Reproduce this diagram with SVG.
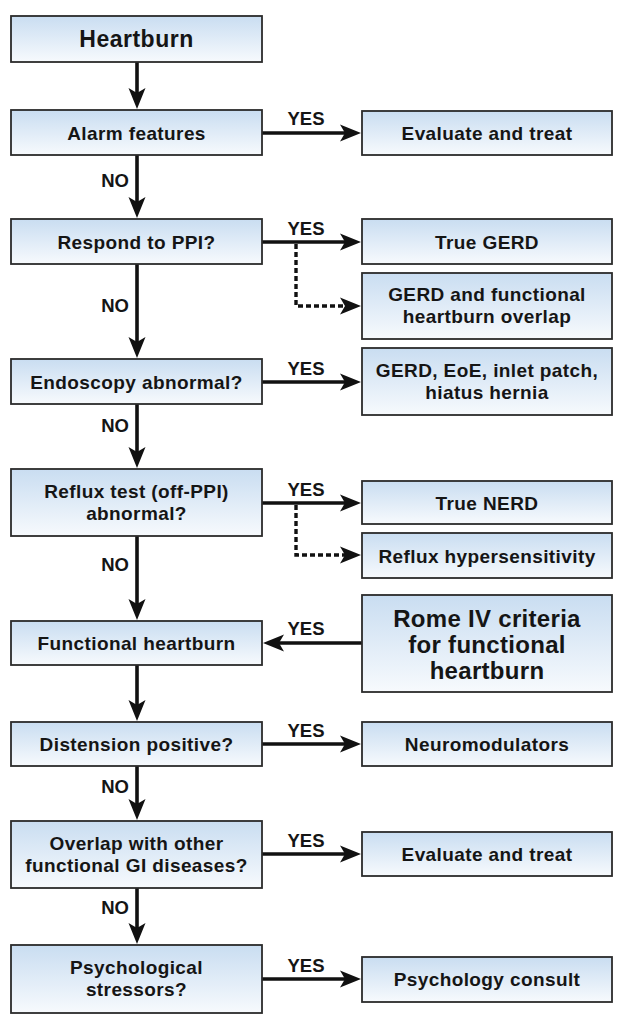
<svg xmlns="http://www.w3.org/2000/svg" width="626" height="1024" viewBox="0 0 626 1024">
<style>
.box{fill:url(#g);stroke:#2b2b2b;stroke-width:1.8}
.t{font-family:"Liberation Sans",Arial,sans-serif;font-weight:bold;font-size:19px;fill:#151515;text-anchor:middle;letter-spacing:0.4px}
.big{font-size:23px;letter-spacing:0.5px}
.rome{font-size:24px;letter-spacing:0.3px}
.lbl{font-family:"Liberation Sans",Arial,sans-serif;font-weight:bold;font-size:18.5px;fill:#151515}
.c{fill:none;stroke:#111;stroke-width:3.6}
.d{fill:none;stroke:#111;stroke-width:3.4;stroke-dasharray:5 3}
</style>
<defs>
<linearGradient id="g" x1="0" y1="0" x2="0" y2="1">
<stop offset="0" stop-color="#c9ddf1"/>
<stop offset="1" stop-color="#f7fafd"/>
</linearGradient>
<marker id="ah" viewBox="-22 -10 23 20" refX="-10" refY="0" markerWidth="23" markerHeight="20" markerUnits="userSpaceOnUse" orient="auto">
<path d="M0,0 L-21,-8.5 L-16,0 L-21,8.5 Z" fill="#111"/>
</marker>
</defs>
<rect width="626" height="1024" fill="#fff"/>

<g id="connectors">
<line class="c" x1="137" y1="62" x2="137" y2="99" marker-end="url(#ah)"/>
<line class="c" x1="137" y1="155" x2="137" y2="208" marker-end="url(#ah)"/>
<line class="c" x1="137" y1="264" x2="137" y2="348" marker-end="url(#ah)"/>
<line class="c" x1="137" y1="404" x2="137" y2="458" marker-end="url(#ah)"/>
<line class="c" x1="137" y1="536" x2="137" y2="610" marker-end="url(#ah)"/>
<line class="c" x1="137" y1="665" x2="137" y2="711" marker-end="url(#ah)"/>
<line class="c" x1="137" y1="766" x2="137" y2="810" marker-end="url(#ah)"/>
<line class="c" x1="137" y1="888" x2="137" y2="934" marker-end="url(#ah)"/>

<line class="c" x1="262" y1="133" x2="351" y2="133" marker-end="url(#ah)"/>
<line class="c" x1="262" y1="242" x2="351" y2="242" marker-end="url(#ah)"/>
<line class="c" x1="262" y1="382" x2="351" y2="382" marker-end="url(#ah)"/>
<line class="c" x1="262" y1="503" x2="351" y2="503" marker-end="url(#ah)"/>
<line class="c" x1="362" y1="643" x2="273" y2="643" marker-end="url(#ah)"/>
<line class="c" x1="262" y1="744" x2="351" y2="744" marker-end="url(#ah)"/>
<line class="c" x1="262" y1="854" x2="351" y2="854" marker-end="url(#ah)"/>
<line class="c" x1="262" y1="979" x2="351" y2="979" marker-end="url(#ah)"/>

<path class="d" d="M296,244 V306 H351" marker-end="url(#ah)"/>
<path class="d" d="M296,505 V555 H351" marker-end="url(#ah)"/>

<text class="lbl" x="306" y="125" text-anchor="middle">YES</text>
<text class="lbl" x="306" y="235" text-anchor="middle">YES</text>
<text class="lbl" x="306" y="375" text-anchor="middle">YES</text>
<text class="lbl" x="306" y="496" text-anchor="middle">YES</text>
<text class="lbl" x="306" y="635" text-anchor="middle">YES</text>
<text class="lbl" x="306" y="737" text-anchor="middle">YES</text>
<text class="lbl" x="306" y="847" text-anchor="middle">YES</text>
<text class="lbl" x="306" y="972" text-anchor="middle">YES</text>

<text class="lbl" x="129" y="187" text-anchor="end">NO</text>
<text class="lbl" x="129" y="312" text-anchor="end">NO</text>
<text class="lbl" x="129" y="432" text-anchor="end">NO</text>
<text class="lbl" x="129" y="571" text-anchor="end">NO</text>
<text class="lbl" x="129" y="793" text-anchor="end">NO</text>
<text class="lbl" x="129" y="914" text-anchor="end">NO</text>
</g>

<g id="heartburn"><rect class="box" x="11" y="16" width="251" height="46"/><text class="t big" x="136.5" y="47">Heartburn</text></g>
<g id="alarm"><rect class="box" x="11" y="110" width="251" height="45"/><text class="t" x="136.5" y="139.5">Alarm features</text></g>
<g id="evaluate1"><rect class="box" x="362" y="111" width="250" height="44"/><text class="t" x="487" y="140">Evaluate and treat</text></g>
<g id="respond"><rect class="box" x="11" y="219" width="251" height="45"/><text class="t" x="136.5" y="248.5">Respond to PPI?</text></g>
<g id="truegerd"><rect class="box" x="362" y="219" width="250" height="45"/><text class="t" x="487" y="248.5">True GERD</text></g>
<g id="overlapgerd"><rect class="box" x="362" y="273" width="250" height="66"/><text class="t" x="487" y="301">GERD and functional</text><text class="t" x="487" y="323">heartburn overlap</text></g>
<g id="endoscopy"><rect class="box" x="11" y="359" width="251" height="45"/><text class="t" x="136.5" y="388.5">Endoscopy abnormal?</text></g>
<g id="gerdeoe"><rect class="box" x="362" y="348" width="250" height="67"/><text class="t" x="487" y="376.5">GERD, EoE, inlet patch,</text><text class="t" x="487" y="398.5">hiatus hernia</text></g>
<g id="reflux"><rect class="box" x="11" y="469" width="251" height="67"/><text class="t" x="136.5" y="497.5">Reflux test (off-PPI)</text><text class="t" x="136.5" y="519.5">abnormal?</text></g>
<g id="truenerd"><rect class="box" x="362" y="481" width="250" height="43"/><text class="t" x="487" y="509.5">True NERD</text></g>
<g id="hypersens"><rect class="box" x="362" y="533" width="250" height="45"/><text class="t" x="487" y="562.5">Reflux hypersensitivity</text></g>
<g id="functional"><rect class="box" x="11" y="621" width="251" height="44"/><text class="t" x="136.5" y="650">Functional heartburn</text></g>
<g id="rome"><rect class="box" x="362" y="595" width="250" height="97"/><text class="t rome" x="487" y="627">Rome IV criteria</text><text class="t rome" x="487" y="653">for functional</text><text class="t rome" x="487" y="679">heartburn</text></g>
<g id="distension"><rect class="box" x="11" y="722" width="251" height="44"/><text class="t" x="136.5" y="751">Distension positive?</text></g>
<g id="neuromod"><rect class="box" x="362" y="722" width="250" height="44"/><text class="t" x="487" y="751">Neuromodulators</text></g>
<g id="overlap"><rect class="box" x="11" y="821" width="251" height="67"/><text class="t" x="136.5" y="849.5">Overlap with other</text><text class="t" x="136.5" y="871.5">functional GI diseases?</text></g>
<g id="evaluate2"><rect class="box" x="362" y="832" width="250" height="44"/><text class="t" x="487" y="861">Evaluate and treat</text></g>
<g id="psych"><rect class="box" x="11" y="945" width="251" height="68"/><text class="t" x="136.5" y="974">Psychological</text><text class="t" x="136.5" y="996">stressors?</text></g>
<g id="consult"><rect class="box" x="362" y="957" width="250" height="45"/><text class="t" x="487" y="986">Psychology consult</text></g>
</svg>
